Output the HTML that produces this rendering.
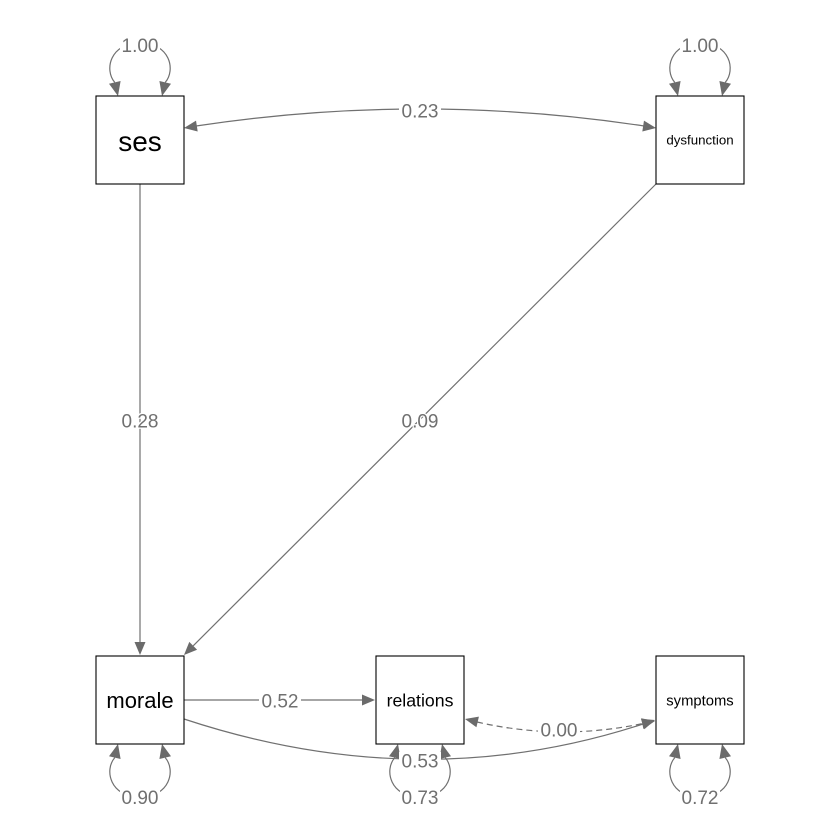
<!DOCTYPE html>
<html><head><meta charset="utf-8"><style>
html,body{margin:0;padding:0;background:#fff;}
svg{display:block;}
.e{fill:none;stroke:#707070;stroke-width:1.2;}
.a{fill:#6b6b6b;stroke:none;}
.l{font-family:"Liberation Sans",Arial,sans-serif;font-size:19px;fill:#707070;text-anchor:middle;}
.h{stroke:#fff;stroke-width:2.5;paint-order:stroke;stroke-linejoin:round;}
.bg{fill:#fff;stroke:none;}
.n{font-family:"Liberation Sans",Arial,sans-serif;fill:#000;text-anchor:middle;}
.b{fill:#fff;stroke:#000;stroke-width:1.1;}
</style></head><body>
<svg width="840" height="840" viewBox="0 0 840 840" xmlns="http://www.w3.org/2000/svg">
<rect width="840" height="840" fill="#fff"/>

<!-- edges -->
<line class="e" x1="140" y1="184" x2="140" y2="643"/>
<polygon class="a" points="140,655 134.5,642 145.5,642"/>

<line class="e" x1="656" y1="184" x2="193.2" y2="645.8"/>
<polygon class="a" points="184,655 189.3,641.9 197.1,649.7"/>

<path class="e" d="M196,126 Q420,92 644,126"/>
<polygon class="a" points="184,128 196.02,120.6 197.68,131.48"/>
<polygon class="a" points="656,128 642.32,131.48 643.98,120.6"/>

<line class="e" x1="184" y1="700" x2="363" y2="700"/>
<polygon class="a" points="375,700 362,694.5 362,705.5"/>

<path class="e" d="M184,719 Q420,797 643,724"/>
<polygon class="a" points="655,720 644.36,729.28 640.94,718.82"/>

<path class="e" d="M477,722 Q560,741 643,723.5" stroke-dasharray="6,4"/>
<polygon class="a" points="465,719 478.91,716.57 476.43,727.29"/>
<polygon class="a" points="655,721 643.41,729.06 641.15,718.3"/>

<!-- self loops: top (ses, dysfunction) -->
<g transform="translate(140,0)">
<path class="e" d="M-25.2,82.4 C-36,70 -30,43 0,43 C30,43 36,70 25.2,82.4"/>
<polygon class="a" points="-22,96 -19.4,81 -31,83.8"/>
<polygon class="a" points="22,96 19.4,81 31,83.8"/>
</g>
<g transform="translate(700,0)">
<path class="e" d="M-25.2,82.4 C-36,70 -30,43 0,43 C30,43 36,70 25.2,82.4"/>
<polygon class="a" points="-22,96 -19.4,81 -31,83.8"/>
<polygon class="a" points="22,96 19.4,81 31,83.8"/>
</g>
<!-- self loops: bottom -->
<g transform="translate(140,0)">
<path class="e" d="M-25.2,757.6 C-36,770 -30,797 0,797 C30,797 36,770 25.2,757.6"/>
<polygon class="a" points="-22,744 -19.4,759 -31,756.2"/>
<polygon class="a" points="22,744 19.4,759 31,756.2"/>
</g>
<g transform="translate(420,0)">
<path class="e" d="M-25.2,757.6 C-36,770 -30,797 0,797 C30,797 36,770 25.2,757.6"/>
<polygon class="a" points="-22,744 -19.4,759 -31,756.2"/>
<polygon class="a" points="22,744 19.4,759 31,756.2"/>
</g>
<g transform="translate(700,0)">
<path class="e" d="M-25.2,757.6 C-36,770 -30,797 0,797 C30,797 36,770 25.2,757.6"/>
<polygon class="a" points="-22,744 -19.4,759 -31,756.2"/>
<polygon class="a" points="22,744 19.4,759 31,756.2"/>
</g>

<!-- nodes -->
<rect class="b" x="96" y="96" width="88" height="88"/>
<rect class="b" x="656" y="96" width="88" height="88"/>
<rect class="b" x="96" y="656" width="88" height="88"/>
<rect class="b" x="376" y="656" width="88" height="88"/>
<rect class="b" x="656" y="656" width="88" height="88"/>

<text class="n" x="140" y="151" style="font-size:28px">ses</text>
<text class="n" x="700" y="144.5" style="font-size:13.3px">dysfunction</text>
<text class="n" x="140" y="708" style="font-size:22px">morale</text>
<text class="n" x="420" y="706.5" style="font-size:17.7px">relations</text>
<text class="n" x="700" y="705.5" style="font-size:14.8px">symptoms</text>

<!-- label backgrounds -->
<rect class="bg" x="399" y="103" width="42" height="16"/>
<rect class="bg" x="259" y="693" width="42" height="16"/>
<rect class="bg" x="538" y="722" width="42" height="16"/>
<rect class="bg" x="399" y="752" width="42" height="16"/>
<rect class="bg" x="120" y="38" width="40" height="15"/>
<rect class="bg" x="680" y="38" width="40" height="15"/>
<rect class="bg" x="120" y="789" width="40" height="16"/>
<rect class="bg" x="400" y="789" width="40" height="16"/>
<rect class="bg" x="680" y="789" width="40" height="16"/>

<!-- labels -->
<text class="l" x="420" y="117.7">0.23</text>
<text class="l h" x="140" y="427.7">0.28</text>
<text class="l h" x="420" y="427.7">0.09</text>
<text class="l" x="280" y="707.7">0.52</text>
<text class="l" x="559" y="736.7">0.00</text>
<text class="l" x="420" y="767.3">0.53</text>
<text class="l" x="140" y="52">1.00</text>
<text class="l" x="700" y="52">1.00</text>
<text class="l" x="140" y="804">0.90</text>
<text class="l" x="420" y="804">0.73</text>
<text class="l" x="700" y="804">0.72</text>
</svg>
</body></html>
